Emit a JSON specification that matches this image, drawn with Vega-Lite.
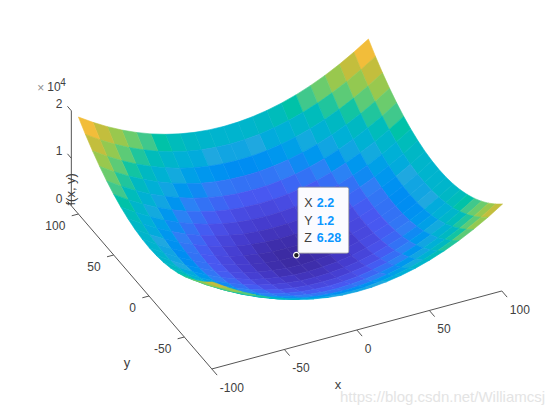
{"$schema":"https://vega.github.io/schema/vega-lite/v6.json","width":554,"height":415,"padding":0,"autosize":"none","background":"white","config":{"view":{"stroke":null},"text":{"font":"Liberation Sans"}},
"datasets":{"grid":[
{"x":100,"y":100,"z":20000},{"x":90,"y":100,"z":18100},{"x":80,"y":100,"z":16400},{"x":70,"y":100,"z":14900},{"x":60,"y":100,"z":13600},{"x":50,"y":100,"z":12500},{"x":40,"y":100,"z":11600},{"x":30,"y":100,"z":10900},{"x":20,"y":100,"z":10400},{"x":10,"y":100,"z":10100},{"x":0,"y":100,"z":10000},{"x":-10,"y":100,"z":10100},{"x":-20,"y":100,"z":10400},{"x":-30,"y":100,"z":10900},{"x":-40,"y":100,"z":11600},{"x":-50,"y":100,"z":12500},{"x":-60,"y":100,"z":13600},{"x":-70,"y":100,"z":14900},{"x":-80,"y":100,"z":16400},{"x":-90,"y":100,"z":18100},{"x":-100,"y":100,"z":20000},
{"x":100,"y":90,"z":18100},{"x":90,"y":90,"z":16200},{"x":80,"y":90,"z":14500},{"x":70,"y":90,"z":13000},{"x":60,"y":90,"z":11700},{"x":50,"y":90,"z":10600},{"x":40,"y":90,"z":9700},{"x":30,"y":90,"z":9000},{"x":20,"y":90,"z":8500},{"x":10,"y":90,"z":8200},{"x":0,"y":90,"z":8100},{"x":-10,"y":90,"z":8200},{"x":-20,"y":90,"z":8500},{"x":-30,"y":90,"z":9000},{"x":-40,"y":90,"z":9700},{"x":-50,"y":90,"z":10600},{"x":-60,"y":90,"z":11700},{"x":-70,"y":90,"z":13000},{"x":-80,"y":90,"z":14500},{"x":-90,"y":90,"z":16200},{"x":-100,"y":90,"z":18100},
{"x":100,"y":80,"z":16400},{"x":90,"y":80,"z":14500},{"x":80,"y":80,"z":12800},{"x":70,"y":80,"z":11300},{"x":60,"y":80,"z":10000},{"x":50,"y":80,"z":8900},{"x":40,"y":80,"z":8000},{"x":30,"y":80,"z":7300},{"x":20,"y":80,"z":6800},{"x":10,"y":80,"z":6500},{"x":0,"y":80,"z":6400},{"x":-10,"y":80,"z":6500},{"x":-20,"y":80,"z":6800},{"x":-30,"y":80,"z":7300},{"x":-40,"y":80,"z":8000},{"x":-50,"y":80,"z":8900},{"x":-60,"y":80,"z":10000},{"x":-70,"y":80,"z":11300},{"x":-80,"y":80,"z":12800},{"x":-90,"y":80,"z":14500},{"x":-100,"y":80,"z":16400},
{"x":100,"y":70,"z":14900},{"x":90,"y":70,"z":13000},{"x":80,"y":70,"z":11300},{"x":70,"y":70,"z":9800},{"x":60,"y":70,"z":8500},{"x":50,"y":70,"z":7400},{"x":40,"y":70,"z":6500},{"x":30,"y":70,"z":5800},{"x":20,"y":70,"z":5300},{"x":10,"y":70,"z":5000},{"x":0,"y":70,"z":4900},{"x":-10,"y":70,"z":5000},{"x":-20,"y":70,"z":5300},{"x":-30,"y":70,"z":5800},{"x":-40,"y":70,"z":6500},{"x":-50,"y":70,"z":7400},{"x":-60,"y":70,"z":8500},{"x":-70,"y":70,"z":9800},{"x":-80,"y":70,"z":11300},{"x":-90,"y":70,"z":13000},{"x":-100,"y":70,"z":14900},
{"x":100,"y":60,"z":13600},{"x":90,"y":60,"z":11700},{"x":80,"y":60,"z":10000},{"x":70,"y":60,"z":8500},{"x":60,"y":60,"z":7200},{"x":50,"y":60,"z":6100},{"x":40,"y":60,"z":5200},{"x":30,"y":60,"z":4500},{"x":20,"y":60,"z":4000},{"x":10,"y":60,"z":3700},{"x":0,"y":60,"z":3600},{"x":-10,"y":60,"z":3700},{"x":-20,"y":60,"z":4000},{"x":-30,"y":60,"z":4500},{"x":-40,"y":60,"z":5200},{"x":-50,"y":60,"z":6100},{"x":-60,"y":60,"z":7200},{"x":-70,"y":60,"z":8500},{"x":-80,"y":60,"z":10000},{"x":-90,"y":60,"z":11700},{"x":-100,"y":60,"z":13600},
{"x":100,"y":50,"z":12500},{"x":90,"y":50,"z":10600},{"x":80,"y":50,"z":8900},{"x":70,"y":50,"z":7400},{"x":60,"y":50,"z":6100},{"x":50,"y":50,"z":5000},{"x":40,"y":50,"z":4100},{"x":30,"y":50,"z":3400},{"x":20,"y":50,"z":2900},{"x":10,"y":50,"z":2600},{"x":0,"y":50,"z":2500},{"x":-10,"y":50,"z":2600},{"x":-20,"y":50,"z":2900},{"x":-30,"y":50,"z":3400},{"x":-40,"y":50,"z":4100},{"x":-50,"y":50,"z":5000},{"x":-60,"y":50,"z":6100},{"x":-70,"y":50,"z":7400},{"x":-80,"y":50,"z":8900},{"x":-90,"y":50,"z":10600},{"x":-100,"y":50,"z":12500},
{"x":100,"y":40,"z":11600},{"x":90,"y":40,"z":9700},{"x":80,"y":40,"z":8000},{"x":70,"y":40,"z":6500},{"x":60,"y":40,"z":5200},{"x":50,"y":40,"z":4100},{"x":40,"y":40,"z":3200},{"x":30,"y":40,"z":2500},{"x":20,"y":40,"z":2000},{"x":10,"y":40,"z":1700},{"x":0,"y":40,"z":1600},{"x":-10,"y":40,"z":1700},{"x":-20,"y":40,"z":2000},{"x":-30,"y":40,"z":2500},{"x":-40,"y":40,"z":3200},{"x":-50,"y":40,"z":4100},{"x":-60,"y":40,"z":5200},{"x":-70,"y":40,"z":6500},{"x":-80,"y":40,"z":8000},{"x":-90,"y":40,"z":9700},{"x":-100,"y":40,"z":11600},
{"x":100,"y":30,"z":10900},{"x":90,"y":30,"z":9000},{"x":80,"y":30,"z":7300},{"x":70,"y":30,"z":5800},{"x":60,"y":30,"z":4500},{"x":50,"y":30,"z":3400},{"x":40,"y":30,"z":2500},{"x":30,"y":30,"z":1800},{"x":20,"y":30,"z":1300},{"x":10,"y":30,"z":1000},{"x":0,"y":30,"z":900},{"x":-10,"y":30,"z":1000},{"x":-20,"y":30,"z":1300},{"x":-30,"y":30,"z":1800},{"x":-40,"y":30,"z":2500},{"x":-50,"y":30,"z":3400},{"x":-60,"y":30,"z":4500},{"x":-70,"y":30,"z":5800},{"x":-80,"y":30,"z":7300},{"x":-90,"y":30,"z":9000},{"x":-100,"y":30,"z":10900},
{"x":100,"y":20,"z":10400},{"x":90,"y":20,"z":8500},{"x":80,"y":20,"z":6800},{"x":70,"y":20,"z":5300},{"x":60,"y":20,"z":4000},{"x":50,"y":20,"z":2900},{"x":40,"y":20,"z":2000},{"x":30,"y":20,"z":1300},{"x":20,"y":20,"z":800},{"x":10,"y":20,"z":500},{"x":0,"y":20,"z":400},{"x":-10,"y":20,"z":500},{"x":-20,"y":20,"z":800},{"x":-30,"y":20,"z":1300},{"x":-40,"y":20,"z":2000},{"x":-50,"y":20,"z":2900},{"x":-60,"y":20,"z":4000},{"x":-70,"y":20,"z":5300},{"x":-80,"y":20,"z":6800},{"x":-90,"y":20,"z":8500},{"x":-100,"y":20,"z":10400},
{"x":100,"y":10,"z":10100},{"x":90,"y":10,"z":8200},{"x":80,"y":10,"z":6500},{"x":70,"y":10,"z":5000},{"x":60,"y":10,"z":3700},{"x":50,"y":10,"z":2600},{"x":40,"y":10,"z":1700},{"x":30,"y":10,"z":1000},{"x":20,"y":10,"z":500},{"x":10,"y":10,"z":200},{"x":0,"y":10,"z":100},{"x":-10,"y":10,"z":200},{"x":-20,"y":10,"z":500},{"x":-30,"y":10,"z":1000},{"x":-40,"y":10,"z":1700},{"x":-50,"y":10,"z":2600},{"x":-60,"y":10,"z":3700},{"x":-70,"y":10,"z":5000},{"x":-80,"y":10,"z":6500},{"x":-90,"y":10,"z":8200},{"x":-100,"y":10,"z":10100},
{"x":100,"y":0,"z":10000},{"x":90,"y":0,"z":8100},{"x":80,"y":0,"z":6400},{"x":70,"y":0,"z":4900},{"x":60,"y":0,"z":3600},{"x":50,"y":0,"z":2500},{"x":40,"y":0,"z":1600},{"x":30,"y":0,"z":900},{"x":20,"y":0,"z":400},{"x":10,"y":0,"z":100},{"x":0,"y":0,"z":6},{"x":-10,"y":0,"z":100},{"x":-20,"y":0,"z":400},{"x":-30,"y":0,"z":900},{"x":-40,"y":0,"z":1600},{"x":-50,"y":0,"z":2500},{"x":-60,"y":0,"z":3600},{"x":-70,"y":0,"z":4900},{"x":-80,"y":0,"z":6400},{"x":-90,"y":0,"z":8100},{"x":-100,"y":0,"z":10000},
{"x":100,"y":-10,"z":10100},{"x":90,"y":-10,"z":8200},{"x":80,"y":-10,"z":6500},{"x":70,"y":-10,"z":5000},{"x":60,"y":-10,"z":3700},{"x":50,"y":-10,"z":2600},{"x":40,"y":-10,"z":1700},{"x":30,"y":-10,"z":1000},{"x":20,"y":-10,"z":500},{"x":10,"y":-10,"z":200},{"x":0,"y":-10,"z":100},{"x":-10,"y":-10,"z":200},{"x":-20,"y":-10,"z":500},{"x":-30,"y":-10,"z":1000},{"x":-40,"y":-10,"z":1700},{"x":-50,"y":-10,"z":2600},{"x":-60,"y":-10,"z":3700},{"x":-70,"y":-10,"z":5000},{"x":-80,"y":-10,"z":6500},{"x":-90,"y":-10,"z":8200},{"x":-100,"y":-10,"z":10100},
{"x":100,"y":-20,"z":10400},{"x":90,"y":-20,"z":8500},{"x":80,"y":-20,"z":6800},{"x":70,"y":-20,"z":5300},{"x":60,"y":-20,"z":4000},{"x":50,"y":-20,"z":2900},{"x":40,"y":-20,"z":2000},{"x":30,"y":-20,"z":1300},{"x":20,"y":-20,"z":800},{"x":10,"y":-20,"z":500},{"x":0,"y":-20,"z":400},{"x":-10,"y":-20,"z":500},{"x":-20,"y":-20,"z":800},{"x":-30,"y":-20,"z":1300},{"x":-40,"y":-20,"z":2000},{"x":-50,"y":-20,"z":2900},{"x":-60,"y":-20,"z":4000},{"x":-70,"y":-20,"z":5300},{"x":-80,"y":-20,"z":6800},{"x":-90,"y":-20,"z":8500},{"x":-100,"y":-20,"z":10400},
{"x":100,"y":-30,"z":10900},{"x":90,"y":-30,"z":9000},{"x":80,"y":-30,"z":7300},{"x":70,"y":-30,"z":5800},{"x":60,"y":-30,"z":4500},{"x":50,"y":-30,"z":3400},{"x":40,"y":-30,"z":2500},{"x":30,"y":-30,"z":1800},{"x":20,"y":-30,"z":1300},{"x":10,"y":-30,"z":1000},{"x":0,"y":-30,"z":900},{"x":-10,"y":-30,"z":1000},{"x":-20,"y":-30,"z":1300},{"x":-30,"y":-30,"z":1800},{"x":-40,"y":-30,"z":2500},{"x":-50,"y":-30,"z":3400},{"x":-60,"y":-30,"z":4500},{"x":-70,"y":-30,"z":5800},{"x":-80,"y":-30,"z":7300},{"x":-90,"y":-30,"z":9000},{"x":-100,"y":-30,"z":10900},
{"x":100,"y":-40,"z":11600},{"x":90,"y":-40,"z":9700},{"x":80,"y":-40,"z":8000},{"x":70,"y":-40,"z":6500},{"x":60,"y":-40,"z":5200},{"x":50,"y":-40,"z":4100},{"x":40,"y":-40,"z":3200},{"x":30,"y":-40,"z":2500},{"x":20,"y":-40,"z":2000},{"x":10,"y":-40,"z":1700},{"x":0,"y":-40,"z":1600},{"x":-10,"y":-40,"z":1700},{"x":-20,"y":-40,"z":2000},{"x":-30,"y":-40,"z":2500},{"x":-40,"y":-40,"z":3200},{"x":-50,"y":-40,"z":4100},{"x":-60,"y":-40,"z":5200},{"x":-70,"y":-40,"z":6500},{"x":-80,"y":-40,"z":8000},{"x":-90,"y":-40,"z":9700},{"x":-100,"y":-40,"z":11600},
{"x":100,"y":-50,"z":12500},{"x":90,"y":-50,"z":10600},{"x":80,"y":-50,"z":8900},{"x":70,"y":-50,"z":7400},{"x":60,"y":-50,"z":6100},{"x":50,"y":-50,"z":5000},{"x":40,"y":-50,"z":4100},{"x":30,"y":-50,"z":3400},{"x":20,"y":-50,"z":2900},{"x":10,"y":-50,"z":2600},{"x":0,"y":-50,"z":2500},{"x":-10,"y":-50,"z":2600},{"x":-20,"y":-50,"z":2900},{"x":-30,"y":-50,"z":3400},{"x":-40,"y":-50,"z":4100},{"x":-50,"y":-50,"z":5000},{"x":-60,"y":-50,"z":6100},{"x":-70,"y":-50,"z":7400},{"x":-80,"y":-50,"z":8900},{"x":-90,"y":-50,"z":10600},{"x":-100,"y":-50,"z":12500},
{"x":100,"y":-60,"z":13600},{"x":90,"y":-60,"z":11700},{"x":80,"y":-60,"z":10000},{"x":70,"y":-60,"z":8500},{"x":60,"y":-60,"z":7200},{"x":50,"y":-60,"z":6100},{"x":40,"y":-60,"z":5200},{"x":30,"y":-60,"z":4500},{"x":20,"y":-60,"z":4000},{"x":10,"y":-60,"z":3700},{"x":0,"y":-60,"z":3600},{"x":-10,"y":-60,"z":3700},{"x":-20,"y":-60,"z":4000},{"x":-30,"y":-60,"z":4500},{"x":-40,"y":-60,"z":5200},{"x":-50,"y":-60,"z":6100},{"x":-60,"y":-60,"z":7200},{"x":-70,"y":-60,"z":8500},{"x":-80,"y":-60,"z":10000},{"x":-90,"y":-60,"z":11700},{"x":-100,"y":-60,"z":13600},
{"x":100,"y":-70,"z":14900},{"x":90,"y":-70,"z":13000},{"x":80,"y":-70,"z":11300},{"x":70,"y":-70,"z":9800},{"x":60,"y":-70,"z":8500},{"x":50,"y":-70,"z":7400},{"x":40,"y":-70,"z":6500},{"x":30,"y":-70,"z":5800},{"x":20,"y":-70,"z":5300},{"x":10,"y":-70,"z":5000},{"x":0,"y":-70,"z":4900},{"x":-10,"y":-70,"z":5000},{"x":-20,"y":-70,"z":5300},{"x":-30,"y":-70,"z":5800},{"x":-40,"y":-70,"z":6500},{"x":-50,"y":-70,"z":7400},{"x":-60,"y":-70,"z":8500},{"x":-70,"y":-70,"z":9800},{"x":-80,"y":-70,"z":11300},{"x":-90,"y":-70,"z":13000},{"x":-100,"y":-70,"z":14900},
{"x":100,"y":-80,"z":16400},{"x":90,"y":-80,"z":14500},{"x":80,"y":-80,"z":12800},{"x":70,"y":-80,"z":11300},{"x":60,"y":-80,"z":10000},{"x":50,"y":-80,"z":8900},{"x":40,"y":-80,"z":8000},{"x":30,"y":-80,"z":7300},{"x":20,"y":-80,"z":6800},{"x":10,"y":-80,"z":6500},{"x":0,"y":-80,"z":6400},{"x":-10,"y":-80,"z":6500},{"x":-20,"y":-80,"z":6800},{"x":-30,"y":-80,"z":7300},{"x":-40,"y":-80,"z":8000},{"x":-50,"y":-80,"z":8900},{"x":-60,"y":-80,"z":10000},{"x":-70,"y":-80,"z":11300},{"x":-80,"y":-80,"z":12800},{"x":-90,"y":-80,"z":14500},{"x":-100,"y":-80,"z":16400},
{"x":100,"y":-90,"z":18100},{"x":90,"y":-90,"z":16200},{"x":80,"y":-90,"z":14500},{"x":70,"y":-90,"z":13000},{"x":60,"y":-90,"z":11700},{"x":50,"y":-90,"z":10600},{"x":40,"y":-90,"z":9700},{"x":30,"y":-90,"z":9000},{"x":20,"y":-90,"z":8500},{"x":10,"y":-90,"z":8200},{"x":0,"y":-90,"z":8100},{"x":-10,"y":-90,"z":8200},{"x":-20,"y":-90,"z":8500},{"x":-30,"y":-90,"z":9000},{"x":-40,"y":-90,"z":9700},{"x":-50,"y":-90,"z":10600},{"x":-60,"y":-90,"z":11700},{"x":-70,"y":-90,"z":13000},{"x":-80,"y":-90,"z":14500},{"x":-90,"y":-90,"z":16200},{"x":-100,"y":-90,"z":18100}
],
"lines":[
{"x":-100,"y":-89,"z":0,"x2":100,"y2":-89,"z2":0},{"x":-100,"y":-89,"z":0,"x2":-100,"y2":110,"z2":0},{"x":-100,"y":110,"z":0,"x2":-100,"y2":110,"z2":20000},
{"x":-100,"y":-89,"z":0,"x2":-100,"y2":-96.5,"z2":0},{"x":-50,"y":-89,"z":0,"x2":-50,"y2":-96.5,"z2":0},{"x":0,"y":-89,"z":0,"x2":0,"y2":-96.5,"z2":0},{"x":50,"y":-89,"z":0,"x2":50,"y2":-96.5,"z2":0},{"x":100,"y":-89,"z":0,"x2":100,"y2":-96.5,"z2":0},
{"x":-100,"y":-50,"z":0,"x2":-104.6,"y2":-50,"z2":0},{"x":-100,"y":0,"z":0,"x2":-104.6,"y2":0,"z2":0},{"x":-100,"y":50,"z":0,"x2":-104.6,"y2":50,"z2":0},{"x":-100,"y":100,"z":0,"x2":-104.6,"y2":100,"z2":0},
{"x":-100,"y":110,"z":0,"x2":-100,"y2":115.5,"z2":0},{"x":-100,"y":110,"z":10000,"x2":-100,"y2":115.5,"z2":10000},{"x":-100,"y":110,"z":20000,"x2":-100,"y2":115.5,"z2":20000}],
"labels":[
{"k":"x","x":-100,"y":-89,"z":0,"t":"-100"},{"k":"x","x":-50,"y":-89,"z":0,"t":"-50"},{"k":"x","x":0,"y":-89,"z":0,"t":"0"},{"k":"x","x":50,"y":-89,"z":0,"t":"50"},{"k":"x","x":100,"y":-89,"z":0,"t":"100"},
{"k":"y","x":-100,"y":-50,"z":0,"t":"-50"},{"k":"y","x":-100,"y":0,"z":0,"t":"0"},{"k":"y","x":-100,"y":50,"z":0,"t":"50"},{"k":"y","x":-100,"y":100,"z":0,"t":"100"},
{"k":"z","x":-100,"y":110,"z":0,"t":"0"},{"k":"z","x":-100,"y":110,"z":10000,"t":"1"},{"k":"z","x":-100,"y":110,"z":20000,"t":"2"},
{"k":"xt","x":-37.1,"y":-138.5,"z":0,"t":"x"},{"k":"yt","x":-144.6,"y":-60.5,"z":0,"t":"y"},{"k":"zt","x":-100,"y":110,"z":10000,"t":"f(x,  y)"},
{"k":"wm","x":73.1,"y":-205.5,"z":0,"t":"https://blog.csdn.net/Williamcsj"}],
"tip":[{"x":2.2,"y":1.2,"z":6.28,"a":"X","b":"2.2","r":0},{"x":2.2,"y":1.2,"z":6.28,"a":"Y","b":"1.2","r":1},{"x":2.2,"y":1.2,"z":6.28,"a":"Z","b":"6.28","r":2}]},
"encoding":{"x":{"field":"u","type":"quantitative","scale":{"domain":[0,554]},"axis":null},"y":{"field":"v","type":"quantitative","scale":{"domain":[415,0]},"axis":null}},
"layer":[
{"data":{"name":"grid"},"transform":[
{"calculate":"[0,1,2,3]","as":"c"},{"flatten":["c"]},
{"calculate":"datum.x-((datum.c==1||datum.c==2)?10:0)","as":"cx"},{"calculate":"datum.y-((datum.c==2||datum.c==3)?10:0)","as":"cy"},
{"filter":"datum.cx>=-100&&datum.cx<100&&datum.cy>=-90&&datum.cy<100"},
{"calculate":"datum.cx*1000+datum.cy","as":"id"},
{"joinaggregate":[{"op":"mean","field":"z","as":"cz"}],"groupby":["id"]},
{"calculate":"294+1.45*datum.x-0.706*datum.y","as":"u"},{"calculate":"257-0.39*datum.x-0.82*datum.y-0.00485*datum.z","as":"v"}],
"mark":{"type":"line","strokeWidth":0.6,"interpolate":"linear-closed"},
"encoding":{"detail":{"field":"id"},"order":{"field":"c"},
"fill":{"field":"cz","type":"quantitative","legend":null,"scale":{"domain":[0,1000,3000,5000,7500,10000,12000,14000,16500,18500,20000],"range":["#3b2a9f","#4438c8","#4a55f0","#3080f5","#1fa8e0","#05b9c0","#3cc88e","#84cc5a","#c8bc3c","#fdbc3c","#f9fb15"]}},
"stroke":{"field":"cz","type":"quantitative","legend":null,"scale":{"domain":[0,1000,3000,5000,7500,10000,12000,14000,16500,18500,20000],"range":["#3b2a9f","#4438c8","#4a55f0","#3080f5","#1fa8e0","#05b9c0","#3cc88e","#84cc5a","#c8bc3c","#fdbc3c","#f9fb15"]}}}},
{"data":{"name":"lines"},"transform":[
{"calculate":"294+1.45*datum.x-0.706*datum.y","as":"u"},{"calculate":"257-0.39*datum.x-0.82*datum.y-0.00475*datum.z","as":"v"},
{"calculate":"294+1.45*datum.x2-0.706*datum.y2","as":"u2"},{"calculate":"257-0.39*datum.x2-0.82*datum.y2-0.00475*datum.z2","as":"v2"}],
"mark":{"type":"rule","color":"#555555","strokeWidth":1},"encoding":{"x2":{"field":"u2"},"y2":{"field":"v2"}}},
{"data":{"name":"labels"},"transform":[{"filter":"datum.k=='x'"},{"calculate":"294+1.45*datum.x-0.706*datum.y","as":"u"},{"calculate":"257-0.39*datum.x-0.82*datum.y-0.00475*datum.z","as":"v"}],
"mark":{"type":"text","align":"left","baseline":"middle","dx":8,"dy":19,"fontSize":12,"color":"#404040"},"encoding":{"text":{"field":"t"}}},
{"data":{"name":"labels"},"transform":[{"filter":"datum.k=='y'"},{"calculate":"294+1.45*datum.x-0.706*datum.y","as":"u"},{"calculate":"257-0.39*datum.x-0.82*datum.y-0.00475*datum.z","as":"v"}],
"mark":{"type":"text","align":"right","baseline":"middle","dx":-13,"dy":12,"fontSize":12,"color":"#404040"},"encoding":{"text":{"field":"t"}}},
{"data":{"name":"labels"},"transform":[{"filter":"datum.k=='z'"},{"calculate":"294+1.45*datum.x-0.706*datum.y","as":"u"},{"calculate":"257-0.39*datum.x-0.82*datum.y-0.00475*datum.z","as":"v"}],
"mark":{"type":"text","align":"right","baseline":"middle","dx":-9,"dy":-7,"fontSize":12,"color":"#404040"},"encoding":{"text":{"field":"t"}}},
{"data":{"name":"labels"},"transform":[{"filter":"datum.k=='xt'||datum.k=='yt'"},{"calculate":"294+1.45*datum.x-0.706*datum.y","as":"u"},{"calculate":"257-0.39*datum.x-0.82*datum.y-0.00475*datum.z","as":"v"}],
"mark":{"type":"text","align":"center","baseline":"middle","fontSize":13,"color":"#404040"},"encoding":{"text":{"field":"t"}}},
{"data":{"name":"labels"},"transform":[{"filter":"datum.k=='zt'"},{"calculate":"294+1.45*datum.x-0.706*datum.y","as":"u"},{"calculate":"257-0.39*datum.x-0.82*datum.y-0.00475*datum.z","as":"v"}],
"mark":{"type":"text","align":"center","baseline":"middle","fontSize":13,"angle":270,"dx":-31,"color":"#404040"},"encoding":{"text":{"field":"t"}}},
{"data":{"name":"labels"},"transform":[{"filter":"datum.k=='wm'"},{"calculate":"294+1.45*datum.x-0.706*datum.y","as":"u"},{"calculate":"257-0.39*datum.x-0.82*datum.y-0.00475*datum.z","as":"v"}],
"mark":{"type":"text","align":"right","baseline":"middle","fontSize":15,"color":"#e4e4e4"},"encoding":{"text":{"field":"t"}}},
{"data":{"name":"labels"},"transform":[{"filter":"datum.k=='z'&&datum.t=='2'"},{"calculate":"294+1.45*datum.x-0.706*datum.y","as":"u"},{"calculate":"257-0.39*datum.x-0.82*datum.y-0.00475*datum.z","as":"v"}],
"mark":{"type":"text","align":"left","baseline":"middle","dx":-34,"dy":-23,"fontSize":12,"color":"#909090","text":"×"},"encoding":{}},
{"data":{"name":"labels"},"transform":[{"filter":"datum.k=='z'&&datum.t=='2'"},{"calculate":"294+1.45*datum.x-0.706*datum.y","as":"u"},{"calculate":"257-0.39*datum.x-0.82*datum.y-0.00475*datum.z","as":"v"}],
"mark":{"type":"text","align":"left","baseline":"middle","dx":-24,"dy":-24,"fontSize":12,"color":"#404040","text":"10"},"encoding":{}},
{"data":{"name":"labels"},"transform":[{"filter":"datum.k=='z'&&datum.t=='2'"},{"calculate":"294+1.45*datum.x-0.706*datum.y","as":"u"},{"calculate":"257-0.39*datum.x-0.82*datum.y-0.00475*datum.z","as":"v"}],
"mark":{"type":"text","align":"left","baseline":"middle","dx":-11,"dy":-28,"fontSize":10,"color":"#404040","text":"4"},"encoding":{}},
{"data":{"name":"tip"},"transform":[{"filter":"datum.r==0"},{"calculate":"294+1.45*datum.x-0.706*datum.y+1.5","as":"u"},{"calculate":"257-0.39*datum.x-0.82*datum.y-0.00475*datum.z-68","as":"v"},{"calculate":"datum.u+51","as":"u2"},{"calculate":"datum.v+66","as":"v2"}],
"mark":{"type":"rect","fill":"#fbfbff","stroke":"#8a8a8a","strokeWidth":0.7,"cornerRadius":2},"encoding":{"x2":{"field":"u2"},"y2":{"field":"v2"}}},
{"data":{"name":"tip"},"transform":[{"calculate":"294+1.45*datum.x-0.706*datum.y","as":"u"},{"calculate":"257-0.39*datum.x-0.82*datum.y-0.00475*datum.z-52+17.5*datum.r","as":"v"}],
"mark":{"type":"text","align":"left","baseline":"middle","dx":8,"fontSize":12.5,"color":"#404040"},"encoding":{"text":{"field":"a"}}},
{"data":{"name":"tip"},"transform":[{"calculate":"294+1.45*datum.x-0.706*datum.y","as":"u"},{"calculate":"257-0.39*datum.x-0.82*datum.y-0.00475*datum.z-52+17.5*datum.r","as":"v"}],
"mark":{"type":"text","align":"left","baseline":"middle","dx":20.5,"fontSize":12.5,"fontWeight":"bold","color":"#0a96ff"},"encoding":{"text":{"field":"b"}}},
{"data":{"name":"tip"},"transform":[{"filter":"datum.r==0"},{"calculate":"294+1.45*datum.x-0.706*datum.y","as":"u"},{"calculate":"257-0.39*datum.x-0.82*datum.y-0.00475*datum.z","as":"v"}],
"mark":{"type":"point","filled":true,"size":30,"fill":"#222222","stroke":"#ffffff","strokeWidth":1.2,"opacity":1},"encoding":{}}
]}
